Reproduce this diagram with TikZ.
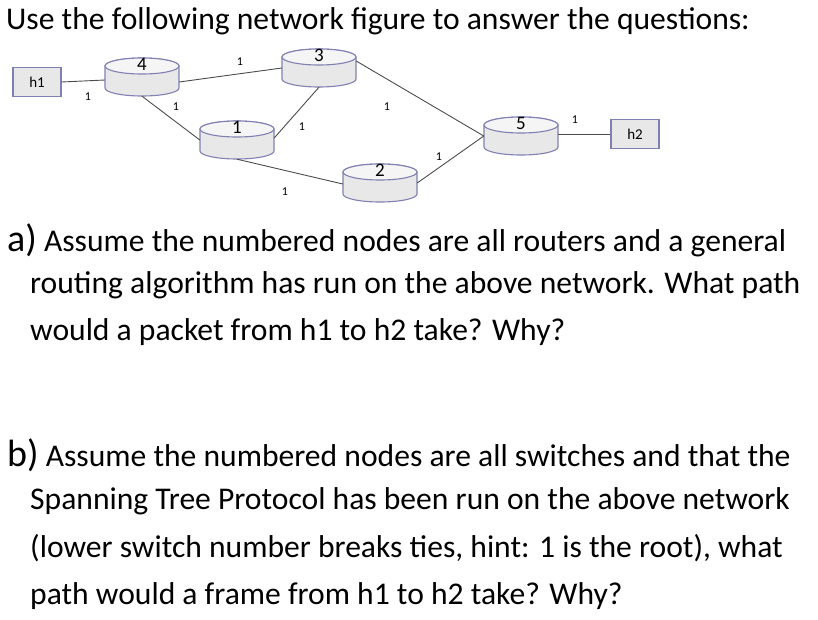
\documentclass[tikz,border=0pt]{standalone}
\usepackage{fontspec}
\setmainfont{Carlito}
\begin{document}
\begin{tikzpicture}[x=1pt,y=-1pt,
  cylf/.style={fill=gray!18,draw=blue!25!gray!80,line width=1.1pt},
  edge/.style={draw=black!70,line width=0.9pt},
  host/.style={draw=blue!25!gray!80,fill=gray!18,line width=1.1pt,minimum width=48pt,minimum height=29pt,inner sep=0,font=\fontsize{15}{15}\selectfont},
  wl/.style={font=\fontsize{12}{12}\selectfont,inner sep=0},
  num/.style={font=\fontsize{19}{19}\selectfont,inner sep=0},
  txt/.style={anchor=base west,inner sep=0,font=\fontsize{31.6}{34}\selectfont}]
\useasboundingbox (0,0) rectangle (818,619);
\newcommand\mycyl[4]{%
  \node[minimum width=74pt,minimum height=38pt,inner sep=0] (#1) at (#2,#3) {};
  \path[cylf] (#2-37,#3-11) -- (#2-37,#3+11) arc[start angle=180,end angle=360,x radius=37pt,y radius=8pt] -- (#2+37,#3-11) arc[start angle=0,end angle=180,x radius=37pt,y radius=8pt] -- cycle;
  \draw[cylf,fill=gray!8] (#2,#3-11) ellipse[x radius=37pt,y radius=8pt];
  \node[num] at (#2,#3-13) {#4};}
\mycyl{r4}{142}{77}{4}
\mycyl{r3}{319}{68}{3}
\mycyl{r1}{237}{140}{1}
\mycyl{r2}{380}{183}{2}
\mycyl{r5}{521}{136}{5}
\node[host] (h1) at (37,82) {h1};
\node[host] (h2) at (635,134) {h2};
\draw[edge] (h1.east) -- ([yshift=-3pt]r4.west);
\draw[edge] ([yshift=-5pt]r4.east) -- ([yshift=0pt]r3.west);
\draw[edge] (r4.south) -- (r1.west);
\draw[edge] ([yshift=2pt]r1.east) -- (r3.south);
\draw[edge] ([yshift=7pt]r3.east) -- (r5.west);
\draw[edge] (r1.south) -- ([yshift=-1pt]r2.west);
\draw[edge] (r2.east) -- (r5.west);
\draw[edge] ([yshift=2pt]r5.east) -- (h2.west);
\node[wl] (w1) at (88,97) {1};
\node[wl] (w2) at (240,62) {1};
\node[wl] (w3) at (176,107) {1};
\node[wl] (w4) at (302,127) {1};
\node[wl] (w5) at (387,107) {1};
\node[wl] (w6) at (285,192) {1};
\node[wl] (w7) at (439,157) {1};
\node[wl] (w8) at (575,120) {1};
\node[txt] (t0) at (6,29) {Use the following network figure to answer the questions:};
\node[txt] (a1) at (7,251) {{\fontsize{38}{38}\selectfont a)} Assume the numbered nodes are all routers and a general};
\node[txt] (a2) at (30,293) {routing algorithm has run on the above network. What path};
\node[txt] (a3) at (30,340) {would a packet from h1 to h2 take? Why?};
\node[txt] (b1) at (7,466) {{\fontsize{38}{38}\selectfont b)} Assume the numbered nodes are all switches and that the};
\node[txt] (b2) at (30,509) {Spanning Tree Protocol has been run on the above network};
\node[txt] (b3) at (30,557) {(lower switch number breaks ties, hint: 1 is the root), what};
\node[txt] (b4) at (30,604) {path would a frame from h1 to h2 take? Why?};
\end{tikzpicture}
\end{document}
